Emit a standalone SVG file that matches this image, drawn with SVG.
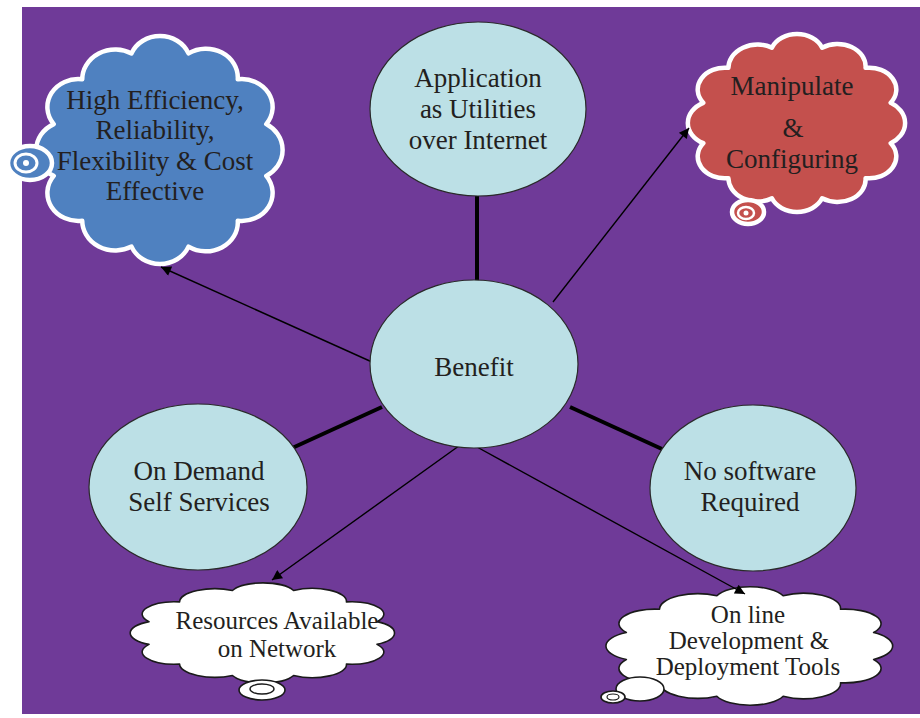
<svg xmlns="http://www.w3.org/2000/svg" xmlns:xlink="http://www.w3.org/1999/xlink" width="920" height="718" viewBox="0 0 920 718">
<style>
.bg{fill:#6F3A98}
.ell{fill:#BCE0E6;stroke:#2a2a2a;stroke-width:1.2}
.t{font-family:"Liberation Serif","Times New Roman",serif;font-size:27px;fill:#231F20;text-anchor:middle}
.ts{font-size:25px}
.thick{stroke:#000;stroke-width:4;fill:none}
.thin{stroke:#000;stroke-width:1.4;fill:none;marker-end:url(#arr)}
.cblue{fill:#4F81C0;stroke:#FFFFFF;stroke-width:4.5}
.cred{fill:#C4504D;stroke:#FFFFFF;stroke-width:4.5}
.cwhite{fill:#FFFFFF;stroke:#1a1a1a;stroke-width:1.6}
</style>
<defs>
<marker id="arr" viewBox="0 0 10 10" refX="10" refY="5" markerWidth="14" markerHeight="10" markerUnits="userSpaceOnUse" orient="auto">
<path d="M0,0 L10,5 L0,10 z" fill="#000"/>
</marker>
<path id="cloud" vector-effect="non-scaling-stroke" stroke-linejoin="round" d="M -25.9,-96.6 A 28 28 0 0 1 25.9,-96.6 A 29 29 0 0 1 70.7,-70.7 A 28 28 0 0 1 96.6,-25.9 A 30 30 0 0 1 96.6,25.9 A 28 28 0 0 1 70.7,70.7 A 29 29 0 0 1 25.9,96.6 A 28 28 0 0 1 -25.9,96.6 A 30 30 0 0 1 -70.7,70.7 A 28 28 0 0 1 -96.6,25.9 A 29 29 0 0 1 -96.6,-25.9 A 28 28 0 0 1 -70.7,-70.7 A 30 30 0 0 1 -25.9,-96.6 Z"/>
</defs>
<rect x="0" y="0" width="920" height="718" fill="#FFFFFF"/>
<rect class="bg" x="22" y="7" width="898" height="707"/>

<g id="cloud-efficiency">
<use xlink:href="#cloud" class="cblue" transform="translate(160,150) scale(1.10,1.0)"/>
<ellipse cx="30" cy="163" rx="22" ry="17" class="cblue"/>
<ellipse cx="26" cy="163" rx="11" ry="9" fill="none" stroke="#FFFFFF" stroke-width="3"/>
<circle cx="26" cy="163" r="3" fill="#FFFFFF"/>
<text class="t" x="155" y="109">High Efficiency,</text>
<text class="t" x="155" y="139">Reliability,</text>
<text class="t" x="155" y="170">Flexibility &amp; Cost</text>
<text class="t" x="155" y="200">Effective</text>
</g>

<g id="cloud-manipulate">
<use xlink:href="#cloud" class="cred" transform="translate(797,123) scale(0.97,0.78)"/>
<ellipse cx="748" cy="212" rx="16" ry="12" class="cred"/>
<ellipse cx="746" cy="213" rx="8" ry="6" fill="none" stroke="#FFFFFF" stroke-width="2.5"/>
<circle cx="746" cy="213" r="2.5" fill="#FFFFFF"/>
<text class="t" x="792" y="95">Manipulate</text>
<text class="t" x="793" y="137">&amp;</text>
<text class="t" x="792" y="168">Configuring</text>
</g>

<g id="cloud-resources">
<use xlink:href="#cloud" class="cwhite" transform="translate(263,633) scale(1.18,0.44)"/>
<ellipse cx="262" cy="690" rx="23" ry="10" class="cwhite"/>
<ellipse cx="262" cy="689" rx="12" ry="5" fill="none" stroke="#1a1a1a" stroke-width="1.4"/>
<text class="t ts" x="277" y="629">Resources Available</text>
<text class="t ts" x="277" y="657">on Network</text>
</g>

<g id="cloud-tools">
<use xlink:href="#cloud" class="cwhite" transform="translate(750,646) scale(1.28,0.52)"/>
<ellipse cx="640" cy="689" rx="24" ry="12" class="cwhite"/>
<ellipse cx="613" cy="697" rx="12" ry="6" class="cwhite"/>
<ellipse cx="613" cy="697" rx="6" ry="3" fill="none" stroke="#1a1a1a" stroke-width="1.2"/>
<text class="t ts" x="748" y="623">On line</text>
<text class="t ts" x="749" y="649">Development &amp;</text>
<text class="t ts" x="748" y="675">Deployment Tools</text>
</g>

<g id="connectors">
<line class="thick" x1="477" y1="196" x2="477" y2="281"/>
<line class="thick" x1="382" y1="407" x2="290" y2="449"/>
<line class="thick" x1="570" y1="407" x2="662" y2="449"/>
<line class="thin" x1="372" y1="362" x2="161" y2="267"/>
<line class="thin" x1="553" y1="302" x2="689" y2="128"/>
<line class="thin" x1="463" y1="443" x2="272" y2="580"/>
<line class="thin" x1="477" y1="447" x2="745" y2="594"/>
</g>

<g id="node-application">
<ellipse class="ell" cx="478" cy="109" rx="108" ry="87"/>
<text class="t" x="478" y="87">Application</text>
<text class="t" x="478" y="118">as Utilities</text>
<text class="t" x="478" y="149">over Internet</text>
</g>

<g id="node-benefit">
<ellipse class="ell" cx="474" cy="364" rx="104" ry="84"/>
<text class="t" x="474" y="376">Benefit</text>
</g>

<g id="node-ondemand">
<ellipse class="ell" cx="198" cy="487" rx="109" ry="83"/>
<text class="t" x="199" y="480">On Demand</text>
<text class="t" x="199" y="511">Self Services</text>
</g>

<g id="node-nosoftware">
<ellipse class="ell" cx="753" cy="488" rx="103" ry="83"/>
<text class="t" x="750" y="480">No software</text>
<text class="t" x="750" y="511">Required</text>
</g>
</svg>
